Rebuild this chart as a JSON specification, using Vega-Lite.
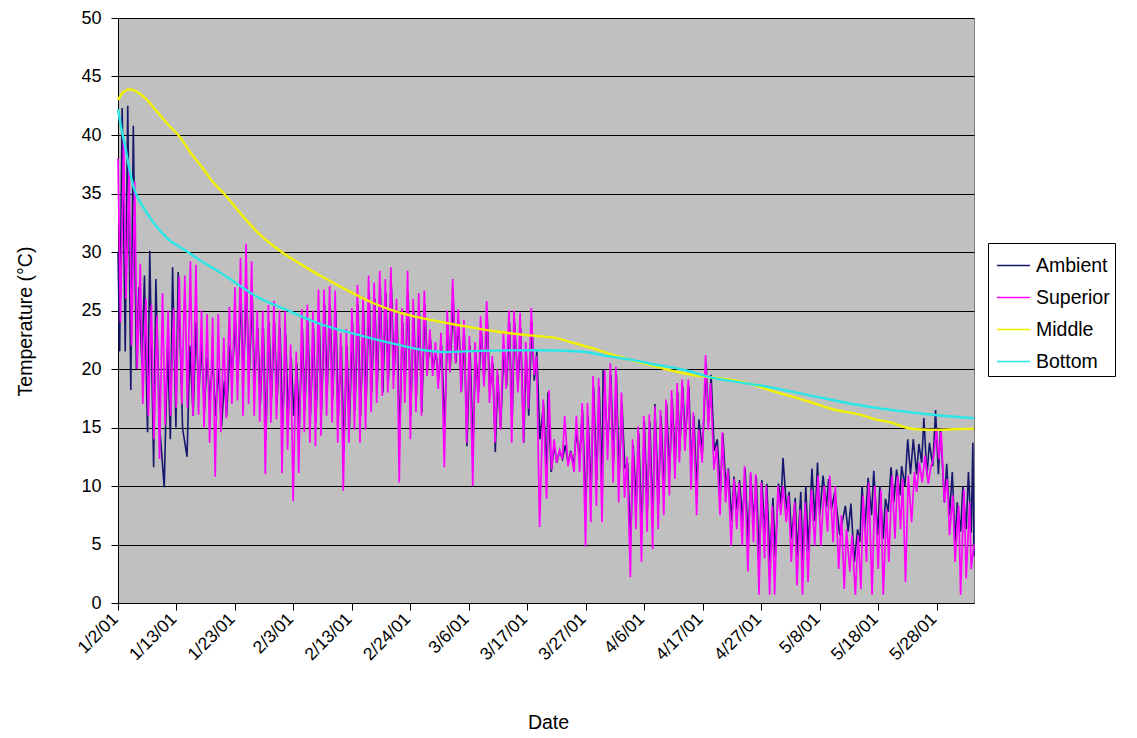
{
  "$schema": "https://vega.github.io/schema/vega-lite/v6.json",
  "width": 856,
  "height": 585,
  "autosize": "none",
  "padding": {"left": 118, "top": 18, "right": 163, "bottom": 135},
  "background": "white",
  "config": {
    "font": "Liberation Sans",
    "view": {"fill": "#c0c0c0", "stroke": "#808080", "strokeWidth": 1},
    "axis": {
      "domainColor": "black",
      "tickColor": "black",
      "labelColor": "black",
      "titleColor": "black",
      "titleFontWeight": "normal",
      "labelFontSize": 18,
      "titleFontSize": 19.5
    }
  },
  "datasets": {
    "ambient": [
      {"t":0,"v":30},{"t":0.3,"v":21.5},{"t":0.75,"v":42.3},{"t":1.3,"v":21.5},{"t":1.75,"v":42.5},{"t":2.3,"v":18.2},{"t":2.75,"v":40.8},{"t":3.3,"v":20},{"t":3.75,"v":27},{"t":4.3,"v":20.3},{"t":4.75,"v":28},{"t":5.3,"v":14.6},{"t":5.7,"v":30.1},{"t":6.4,"v":11.6},{"t":6.8,"v":27.7},{"t":7.5,"v":14.9},{"t":8.3,"v":9.9},{"t":8.9,"v":22},{"t":9.4,"v":14},{"t":9.8,"v":28.7},{"t":10.4,"v":15},{"t":10.8,"v":28.3},{"t":11.6,"v":14.9},{"t":12.4,"v":12.5},{"t":12.9,"v":22},{"t":13.5,"v":16},{"t":14,"v":24},{"t":14.5,"v":17.9},{"t":15,"v":22},{"t":15.5,"v":16.4},{"t":16,"v":21},{"t":16.5,"v":17.3},{"t":17,"v":21},{"t":17.5,"v":16},{"t":18,"v":20},{"t":18.6,"v":15.1},{"t":19.1,"v":19},{"t":19.5,"v":16},{"t":20.1,"v":22},{"t":20.5,"v":19.7},{"t":21.1,"v":24},{"t":21.5,"v":19},{"t":22.1,"v":26},{"t":22.5,"v":19.1},{"t":23.1,"v":27},{"t":23.5,"v":18.8},{"t":24.1,"v":26},{"t":24.5,"v":19.1},
      {"t":25.1,"v":23.5},{"t":25.55,"v":17},{"t":26.1,"v":23.5},{"t":26.55,"v":14},{"t":27.1,"v":24},{"t":27.55,"v":17.5},{"t":28.1,"v":24},{"t":28.55,"v":17},{"t":29.1,"v":23.5},{"t":29.55,"v":15},{"t":30.1,"v":23},{"t":30.55,"v":16},{"t":31.1,"v":21},{"t":31.55,"v":16},{"t":32.1,"v":20.5},{"t":32.55,"v":15},{"t":33.1,"v":23.5},{"t":33.55,"v":16.5},{"t":34.1,"v":24},{"t":34.55,"v":16},{"t":35.1,"v":23.5},{"t":35.55,"v":15.5},{"t":36.1,"v":25},{"t":36.55,"v":16.5},{"t":37.1,"v":25.5},{"t":37.55,"v":18},{"t":38.1,"v":25.5},{"t":38.55,"v":17.5},{"t":39.1,"v":25},{"t":39.55,"v":16},{"t":40.1,"v":22},{"t":40.55,"v":13},{"t":41.1,"v":22},{"t":41.55,"v":15},{"t":42.1,"v":24},{"t":42.55,"v":16.5},{"t":43.1,"v":25.5},{"t":43.55,"v":16},{"t":44.1,"v":25},{"t":44.55,"v":17},{"t":45.1,"v":26.5},{"t":45.55,"v":18},{"t":46.1,"v":26},{"t":46.55,"v":18.5},{"t":47.1,"v":27},{"t":47.55,"v":18},{"t":48.1,"v":26.5},{"t":48.55,"v":19},{"t":49.1,"v":27},{"t":49.55,"v":19.5},
      {"t":50.1,"v":25},{"t":50.55,"v":14},{"t":51.1,"v":24},{"t":51.55,"v":18.5},{"t":52.1,"v":26.5},{"t":52.55,"v":16},{"t":53.1,"v":25},{"t":53.55,"v":17.5},{"t":54.1,"v":25},{"t":54.55,"v":16.3},{"t":55.1,"v":25.5},{"t":55.55,"v":20},{"t":56.1,"v":22.5},{"t":56.55,"v":20},{"t":57.1,"v":21.5},{"t":57.55,"v":19},{"t":58.1,"v":22},{"t":58.65,"v":15},{"t":59.2,"v":24},{"t":59.65,"v":20},{"t":60.2,"v":26},{"t":60.65,"v":20.5},{"t":61.2,"v":24},{"t":61.65,"v":18.1},{"t":62.2,"v":23},{"t":62.65,"v":13.4},{"t":63.2,"v":22},{"t":63.75,"v":13},{"t":64.2,"v":21.5},{"t":64.75,"v":18},{"t":65.2,"v":23.5},{"t":65.75,"v":19},{"t":66.3,"v":24.5},{"t":66.75,"v":18},{"t":67.3,"v":20.5},{"t":67.75,"v":12.9},{"t":68.2,"v":19.5},{"t":68.7,"v":14.9},{"t":69.3,"v":22},{"t":69.75,"v":18.5},{"t":70.3,"v":24},{"t":70.75,"v":15},{"t":71.2,"v":24},{"t":71.85,"v":18.5},{"t":72.3,"v":23.5},{"t":72.85,"v":13.7},{"t":73.3,"v":21.5},{"t":73.75,"v":16},{"t":74.3,"v":24},{"t":74.75,"v":19},
      {"t":75.2,"v":21.5},{"t":75.75,"v":14},{"t":76.4,"v":17},{"t":77,"v":11},{"t":77.2,"v":18},{"t":77.8,"v":11.2},{"t":78.3,"v":13.5},{"t":78.8,"v":12},{"t":79.3,"v":13},{"t":79.8,"v":12.3},{"t":80.3,"v":13.5},{"t":80.8,"v":12},{"t":81.3,"v":13},{"t":81.8,"v":11.7},{"t":82.3,"v":14.5},{"t":82.9,"v":12.5},{"t":83.4,"v":16.5},{"t":84,"v":8},{"t":84.4,"v":16},{"t":84.95,"v":9.5},{"t":85.4,"v":18.5},{"t":85.95,"v":10.5},{"t":86.4,"v":18.5},{"t":86.95,"v":9.5},{"t":87.1,"v":20},{"t":87.95,"v":13.5},{"t":88.5,"v":19.5},{"t":88.95,"v":12},{"t":89.5,"v":19.5},{"t":89.95,"v":10.5},{"t":90.5,"v":17},{"t":91,"v":11.5},{"t":91.5,"v":12},{"t":92.05,"v":5},{"t":92.5,"v":13.5},{"t":93.05,"v":8.5},{"t":93.5,"v":14.5},{"t":94.05,"v":6},{"t":94.5,"v":15.5},{"t":95.05,"v":8},{"t":95.5,"v":15.5},{"t":96.05,"v":7},{"t":96.4,"v":17},{"t":97.05,"v":8.5},{"t":97.5,"v":16},{"t":98.05,"v":9.5},{"t":98.5,"v":17},{"t":99.05,"v":11},{"t":99.5,"v":17.5},{"t":100.05,"v":12},
      {"t":100.5,"v":18},{"t":100.85,"v":13},{"t":101.4,"v":18.5},{"t":101.85,"v":14},{"t":102.5,"v":18.5},{"t":102.95,"v":11.5},{"t":103.4,"v":16},{"t":103.95,"v":9.5},{"t":104.3,"v":15.7},{"t":104.95,"v":13},{"t":105.6,"v":20.5},{"t":106.05,"v":15.5},{"t":106.5,"v":19.5},{"t":107.05,"v":13},{"t":107.6,"v":14},{"t":108.15,"v":9.5},{"t":108.6,"v":14.5},{"t":109.15,"v":10},{"t":109.6,"v":11.5},{"t":110.2,"v":7},{"t":110.6,"v":10.8},{"t":111.15,"v":8},{"t":111.6,"v":10.5},{"t":112.15,"v":7},{"t":112.6,"v":11.5},{"t":113.15,"v":5},{"t":113.6,"v":11},{"t":114.15,"v":7},{"t":114.6,"v":10.8},{"t":115.15,"v":3.5},{"t":115.6,"v":10.5},{"t":116.15,"v":6},{"t":116.5,"v":10.2},{"t":117.05,"v":3.5},{"t":117.6,"v":9},{"t":118,"v":4},{"t":118.6,"v":10.2},{"t":119.05,"v":8.5},{"t":119.4,"v":12.4},{"t":120.05,"v":8},{"t":120.5,"v":9.5},{"t":120.95,"v":5.5},{"t":121.6,"v":9},{"t":121.95,"v":4},{"t":122.6,"v":9.5},{"t":122.95,"v":3.5},{"t":123.5,"v":10},{"t":123.95,"v":4.5},{"t":124.6,"v":11.5},{"t":125.15,"v":7},
      {"t":125.6,"v":12},{"t":126,"v":7.5},{"t":126.6,"v":10.9},{"t":127.2,"v":8.2},{"t":127.6,"v":10.6},{"t":128.1,"v":8},{"t":128.7,"v":9.5},{"t":129.6,"v":5.8},{"t":130.6,"v":8.3},{"t":131.1,"v":6.1},{"t":131.6,"v":8.5},{"t":132.2,"v":3.5},{"t":132.8,"v":6.3},{"t":133.2,"v":5.2},{"t":133.6,"v":10},{"t":134.1,"v":6.3},{"t":134.7,"v":10.7},{"t":135.3,"v":7.5},{"t":135.7,"v":11.3},{"t":136.4,"v":5.8},{"t":136.8,"v":10},{"t":137.4,"v":5.5},{"t":137.8,"v":8.9},{"t":138.3,"v":7.8},{"t":138.8,"v":11.6},{"t":139.3,"v":8.6},{"t":139.8,"v":11.4},{"t":140.4,"v":9.2},{"t":140.7,"v":11.7},{"t":141.3,"v":10},{"t":141.8,"v":14},{"t":142.3,"v":11},{"t":142.8,"v":14},{"t":143.4,"v":11},{"t":143.8,"v":13.6},{"t":144.3,"v":12},{"t":144.7,"v":15.8},{"t":145.25,"v":10.9},{"t":145.7,"v":13.7},{"t":146.3,"v":11.7},{"t":146.8,"v":16.5},{"t":147.3,"v":11},{"t":147.7,"v":14.8},{"t":148.4,"v":8.6},{"t":148.8,"v":11.9},{"t":149.3,"v":7.5},{"t":149.8,"v":11.2},{"t":150.3,"v":5.2},{"t":150.7,"v":8.6},{"t":151.3,"v":6.1},{"t":151.7,"v":10},{"t":152.3,"v":6.3},{"t":152.7,"v":11.2},{"t":153.2,"v":6},{"t":153.5,"v":13.7},{"t":153.7,"v":4}
    ],
    "superior": [
      {"t":0,"v":38},{"t":0.45,"v":24},{"t":1,"v":39.6},{"t":1.45,"v":26},{"t":2,"v":37.5},{"t":2.45,"v":22},{"t":3,"v":36},{"t":3.45,"v":20},{"t":4,"v":29},{"t":4.45,"v":17},{"t":5,"v":26},{"t":5.45,"v":16},{"t":6,"v":25.5},{"t":6.45,"v":14},{"t":7,"v":24.6},{"t":7.45,"v":12.3},{"t":8,"v":26.5},{"t":8.45,"v":15.2},{"t":9,"v":25},{"t":9.45,"v":16},{"t":10,"v":25.2},{"t":10.45,"v":16.7},{"t":11,"v":27.9},{"t":11.45,"v":17},{"t":12,"v":28},{"t":12.45,"v":16.7},{"t":13,"v":29.2},{"t":13.45,"v":16},{"t":14,"v":28.9},{"t":14.45,"v":16.1},{"t":15,"v":25},{"t":15.45,"v":15},{"t":16,"v":24.7},{"t":16.45,"v":13.7},{"t":17,"v":24.4},{"t":17.45,"v":10.8},{"t":18,"v":24.7},{"t":18.45,"v":14.6},{"t":19,"v":22.7},{"t":19.45,"v":15.8},{"t":20,"v":25.3},{"t":20.45,"v":17},{"t":21,"v":27},{"t":21.45,"v":17.3},{"t":22,"v":29.5},{"t":22.45,"v":16},{"t":23,"v":30.7},{"t":23.45,"v":17},{"t":24,"v":29.2},{"t":24.45,"v":16},
      {"t":25,"v":25},{"t":25.45,"v":15.5},{"t":26,"v":25},{"t":26.45,"v":11},{"t":27,"v":25.5},{"t":27.45,"v":15.4},{"t":28,"v":25.8},{"t":28.45,"v":15.7},{"t":29,"v":25},{"t":29.45,"v":11.1},{"t":30,"v":25},{"t":30.45,"v":13.1},{"t":31,"v":22.1},{"t":31.45,"v":8.7},{"t":32,"v":21.5},{"t":32.45,"v":11.1},{"t":33,"v":25.1},{"t":33.45,"v":14.6},{"t":34,"v":25.5},{"t":34.45,"v":13.7},{"t":35,"v":25},{"t":35.45,"v":13.4},{"t":36,"v":26.8},{"t":36.45,"v":14.3},{"t":37,"v":26.8},{"t":37.45,"v":16},{"t":38,"v":27.1},{"t":38.45,"v":15.4},{"t":39,"v":26.7},{"t":39.45,"v":13.7},{"t":40,"v":23.1},{"t":40.45,"v":9.6},{"t":41,"v":23.4},{"t":41.45,"v":13.7},{"t":42,"v":25.2},{"t":42.45,"v":14.8},{"t":43,"v":27.2},{"t":43.45,"v":13.7},{"t":44,"v":26.2},{"t":44.45,"v":14.8},{"t":45,"v":28},{"t":45.45,"v":16.3},{"t":46,"v":27.4},{"t":46.45,"v":17.1},{"t":47,"v":28.4},{"t":47.45,"v":17.7},{"t":48,"v":27.7},{"t":48.45,"v":18},{"t":49,"v":28.7},{"t":49.45,"v":18.3},
      {"t":50,"v":26},{"t":50.5,"v":10.3},{"t":51,"v":25.2},{"t":51.5,"v":17.1},{"t":52,"v":28.4},{"t":52.5,"v":14},{"t":53,"v":26},{"t":53.5,"v":16.3},{"t":54,"v":26.5},{"t":54.5,"v":16},{"t":55,"v":26.7},{"t":55.5,"v":19.4},{"t":56,"v":23.4},{"t":56.5,"v":19.4},{"t":57,"v":22.3},{"t":57.5,"v":18.3},{"t":58,"v":23.1},{"t":58.6,"v":11.6},{"t":59.1,"v":25},{"t":59.6,"v":19.7},{"t":60.1,"v":27.7},{"t":60.6,"v":20.5},{"t":61.1,"v":25.1},{"t":61.6,"v":18},{"t":62.1,"v":24.2},{"t":62.6,"v":13.7},{"t":63.1,"v":22.8},{"t":63.7,"v":10},{"t":64.1,"v":22.3},{"t":64.7,"v":17.1},{"t":65.1,"v":24.5},{"t":65.7,"v":18.5},{"t":66.2,"v":25.8},{"t":66.7,"v":17.1},{"t":67.2,"v":21.1},{"t":67.7,"v":13.7},{"t":68.1,"v":20},{"t":68.7,"v":14.8},{"t":69.2,"v":23.1},{"t":69.7,"v":18.3},{"t":70.2,"v":25},{"t":70.7,"v":13.7},{"t":71.1,"v":25},{"t":71.8,"v":18},{"t":72.2,"v":24.8},{"t":72.8,"v":13.7},{"t":73.2,"v":22.3},{"t":73.7,"v":16.6},{"t":74.2,"v":25.2},{"t":74.7,"v":19.5},
      {"t":75.15,"v":21.1},{"t":75.7,"v":6.5},{"t":76.35,"v":17.4},{"t":76.95,"v":8.9},{"t":77.4,"v":18.2},{"t":77.85,"v":11.4},{"t":78.3,"v":14},{"t":78.75,"v":12},{"t":79.3,"v":13.1},{"t":79.8,"v":12.3},{"t":80.2,"v":16},{"t":80.8,"v":11.7},{"t":81.3,"v":12.9},{"t":81.9,"v":11.2},{"t":82.3,"v":16},{"t":82.9,"v":11.2},{"t":83.35,"v":17.1},{"t":83.95,"v":4.8},{"t":84.3,"v":17.1},{"t":84.9,"v":6.9},{"t":85.3,"v":19.4},{"t":85.9,"v":8.3},{"t":86.3,"v":19.2},{"t":86.9,"v":6.9},{"t":87.4,"v":19.9},{"t":87.9,"v":12.2},{"t":88.4,"v":20.5},{"t":88.9,"v":10.3},{"t":89.4,"v":20.2},{"t":89.9,"v":8.6},{"t":90.4,"v":18},{"t":90.95,"v":9},{"t":91.4,"v":12.5},{"t":92,"v":2.2},{"t":92.4,"v":14},{"t":93,"v":6.3},{"t":93.4,"v":15.1},{"t":94,"v":3.5},{"t":94.4,"v":16},{"t":95,"v":6.1},{"t":95.4,"v":16.1},{"t":96,"v":4.6},{"t":96.4,"v":16.8},{"t":97,"v":6.3},{"t":97.4,"v":16.5},{"t":98,"v":7.5},{"t":98.4,"v":17.4},{"t":99,"v":9.2},{"t":99.4,"v":18.2},{"t":100,"v":10.6},
      {"t":100.4,"v":18.8},{"t":100.8,"v":12},{"t":101.3,"v":19.1},{"t":101.8,"v":13},{"t":102.4,"v":19.1},{"t":102.9,"v":9.7},{"t":103.3,"v":16.3},{"t":103.9,"v":7.5},{"t":104.3,"v":14.8},{"t":104.9,"v":12},{"t":105.5,"v":21.2},{"t":106,"v":14.8},{"t":106.4,"v":18.8},{"t":107,"v":11.4},{"t":107.5,"v":13.4},{"t":108.1,"v":7.5},{"t":108.5,"v":14.6},{"t":109.1,"v":8.6},{"t":109.5,"v":11.4},{"t":110.1,"v":4.9},{"t":110.6,"v":10.6},{"t":111.1,"v":6.3},{"t":111.5,"v":10.3},{"t":112.1,"v":4.9},{"t":112.5,"v":11.7},{"t":113.1,"v":2.7},{"t":113.6,"v":11.2},{"t":114.1,"v":5.2},{"t":114.5,"v":11},{"t":115.1,"v":0.7},{"t":115.5,"v":10.3},{"t":116.1,"v":3.8},{"t":116.4,"v":10},{"t":117,"v":0.7},{"t":117.5,"v":8.3},{"t":117.9,"v":0.7},{"t":118.5,"v":10},{"t":119,"v":7.5},{"t":119.4,"v":10},{"t":120,"v":6.9},{"t":120.4,"v":9.2},{"t":120.9,"v":3.5},{"t":121.5,"v":8.6},{"t":121.9,"v":1.5},{"t":122.5,"v":8},{"t":122.9,"v":0.7},{"t":123.4,"v":8.6},{"t":123.9,"v":1.8},{"t":124.5,"v":9.7},{"t":125.1,"v":4.9},
      {"t":125.7,"v":10.9},{"t":126.2,"v":4.9},{"t":126.8,"v":10},{"t":127.4,"v":6.1},{"t":127.8,"v":10.9},{"t":128.4,"v":5.2},{"t":128.8,"v":10},{"t":129.4,"v":2.9},{"t":129.9,"v":7.5},{"t":130.4,"v":1.2},{"t":130.8,"v":6.3},{"t":131.4,"v":2.7},{"t":131.8,"v":5.8},{"t":132.4,"v":0.7},{"t":132.9,"v":5.8},{"t":133.4,"v":1.2},{"t":133.8,"v":9.2},{"t":134.4,"v":3.5},{"t":134.8,"v":10.3},{"t":135.4,"v":0.7},{"t":135.9,"v":10},{"t":136.5,"v":2.9},{"t":137,"v":9.7},{"t":137.4,"v":0.7},{"t":138,"v":8},{"t":138.4,"v":3.5},{"t":139,"v":10.9},{"t":139.5,"v":5.5},{"t":140,"v":10.9},{"t":140.5,"v":6.3},{"t":140.9,"v":10.6},{"t":141.4,"v":1.8},{"t":141.9,"v":10.9},{"t":142.5,"v":6.9},{"t":143,"v":11.2},{"t":143.4,"v":9.5},{"t":143.9,"v":12},{"t":144.4,"v":10.3},{"t":144.9,"v":12.6},{"t":145.5,"v":10.2},{"t":145.9,"v":11.5},{"t":146.5,"v":12.6},{"t":146.95,"v":14.8},{"t":147.4,"v":12.3},{"t":147.8,"v":14.6},{"t":148.4,"v":8.6},{"t":148.9,"v":10.6},{"t":149.3,"v":5.8},{"t":149.9,"v":9.2},{"t":150.3,"v":3.5},{"t":150.95,"v":8.3},{"t":151.3,"v":0.7},{"t":151.9,"v":9.7},{"t":152.3,"v":2.1},{"t":152.9,"v":8.6},{"t":153.2,"v":2.9},{"t":153.7,"v":5}
    ],
    "middle": [
      {"t":0,"v":43.0},{"t":1,"v":43.7},{"t":2,"v":43.9},{"t":3,"v":43.8},{"t":5,"v":43.1},{"t":7,"v":42.0},{"t":9,"v":40.9},{"t":11,"v":39.9},{"t":13,"v":38.5},{"t":15,"v":37.3},{"t":17,"v":36.0},{"t":19,"v":35.0},{"t":22,"v":33.3},{"t":25,"v":31.7},{"t":29.4,"v":30.0},{"t":33,"v":28.9},{"t":36.6,"v":27.9},{"t":42.5,"v":26.4},{"t":46,"v":25.6},{"t":50,"v":24.9},{"t":55,"v":24.3},{"t":61.7,"v":23.7},{"t":68,"v":23.2},{"t":75.7,"v":22.8},{"t":78,"v":22.7},{"t":82,"v":22.2},{"t":85,"v":21.8},{"t":88.9,"v":21.2},{"t":95,"v":20.4},{"t":100.9,"v":19.7},{"t":103,"v":19.5},{"t":108,"v":19.2},{"t":112,"v":18.9},{"t":118,"v":18.05},{"t":124.2,"v":17.2},{"t":128,"v":16.6},{"t":133.2,"v":16.1},{"t":136,"v":15.7},{"t":139,"v":15.4},{"t":141.5,"v":15.0},{"t":143.4,"v":14.85},{"t":147,"v":14.8},{"t":150,"v":14.85},{"t":153.7,"v":14.9}
    ],
    "bottom": [
      {"t":0,"v":42.2},{"t":0.5,"v":40.8},{"t":1.3,"v":39},{"t":2,"v":37.2},{"t":2.9,"v":35.4},{"t":4.45,"v":33.9},{"t":6.9,"v":32.2},{"t":9,"v":31.1},{"t":11.9,"v":30.2},{"t":15,"v":29.2},{"t":18.2,"v":28.3},{"t":21,"v":27.4},{"t":24.5,"v":26.3},{"t":30.5,"v":25.0},{"t":36.6,"v":23.8},{"t":42.5,"v":23.0},{"t":50,"v":22.1},{"t":55,"v":21.6},{"t":58.7,"v":21.45},{"t":65,"v":21.55},{"t":75,"v":21.6},{"t":83,"v":21.5},{"t":88,"v":21.1},{"t":92,"v":20.8},{"t":97.3,"v":20.3},{"t":101,"v":20.0},{"t":106.3,"v":19.3},{"t":115.2,"v":18.6},{"t":124.2,"v":17.75},{"t":133.2,"v":16.9},{"t":142.2,"v":16.3},{"t":148,"v":16.0},{"t":153.7,"v":15.8}
    ]
  },
  "encoding": {
    "x": {
      "field": "t",
      "type": "quantitative",
      "scale": {"domain": [0, 153.7], "nice": false, "zero": false},
      "axis": {
        "title": "Date",
        "grid": false,
        "values": [0, 10.5, 21, 31.5, 42, 52.5, 63, 73.5, 84, 94.5, 105, 115.5, 126, 136.5, 147],
        "labelExpr": "['1/2/01','1/13/01','1/23/01','2/3/01','2/13/01','2/24/01','3/6/01','3/17/01','3/27/01','4/6/01','4/17/01','4/27/01','5/8/01','5/18/01','5/28/01'][round(datum.value / 10.5)]",
        "labelAngle": -45,
        "labelAlign": "right",
        "labelBaseline": "middle",
        "labelFontSize": 17.5,
        "labelPadding": 6,
        "labelOffset": -3,
        "tickSize": 7,
        "labelOverlap": false,
        "titleX": 430,
        "titleY": 119,
        "titleBaseline": "middle",
        "titleAlign": "center"
      }
    },
    "y": {
      "field": "v",
      "type": "quantitative",
      "scale": {"domain": [0, 50], "nice": false},
      "axis": {
        "title": "Temperature (°C)",
        "values": [0, 5, 10, 15, 20, 25, 30, 35, 40, 45, 50],
        "grid": true,
        "gridColor": "black",
        "gridWidth": 1,
        "gridOpacity": 1,
        "tickSize": 7,
        "labelPadding": 10,
        "titleX": -93,
        "titleY": 303,
        "titleAngle": -90,
        "titleAlign": "center",
        "titleBaseline": "middle"
      }
    }
  },
  "layer": [
    {
      "data": {"name": "ambient"},
      "mark": {"type": "line", "strokeWidth": 1.6},
      "encoding": {"color": {"datum": "Ambient"}}
    },
    {
      "data": {"name": "superior"},
      "mark": {"type": "line", "strokeWidth": 1.7},
      "encoding": {"color": {"datum": "Superior"}}
    },
    {
      "data": {"name": "middle"},
      "mark": {"type": "line", "strokeWidth": 2.4, "interpolate": "monotone"},
      "encoding": {"color": {"datum": "Middle"}}
    },
    {
      "data": {"name": "bottom"},
      "mark": {"type": "line", "strokeWidth": 2.4, "interpolate": "monotone"},
      "encoding": {
        "color": {
          "datum": "Bottom",
          "scale": {
            "domain": ["Ambient", "Superior", "Middle", "Bottom"],
            "range": ["#16166e", "#ff00ff", "#f2f200", "#2ae6e6"]
          },
          "legend": {
            "title": null,
            "orient": "none",
            "legendX": 870,
            "legendY": 225,
            "strokeColor": "black",
            "fillColor": "white",
            "padding": 5,
            "symbolOffset": 3,
            "symbolType": "stroke",
            "symbolSize": 1100,
            "symbolStrokeWidth": 1.5,
            "labelFontSize": 19.5,
            "labelColor": "black",
            "labelOffset": 5,
            "rowPadding": 5
          }
        }
      }
    }
  ]
}
